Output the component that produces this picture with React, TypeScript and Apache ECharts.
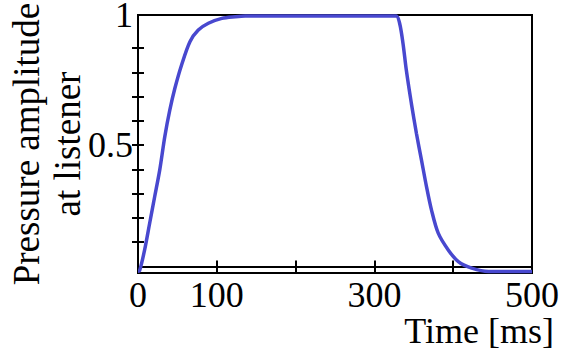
import React, { useEffect, useRef } from "react";
import * as echarts from "echarts";

const timeMs = [0, 2, 8.4, 14.8, 21.2, 27.6, 34, 40.4, 46.8, 55.3, 65.9, 76.5, 89.3, 106.4, 123.4, 136, 180, 240, 300, 327.7, 332, 336.3, 340.5, 346.9, 353.3, 359.7, 366.1, 372.4, 381, 393.7, 406.5, 423.5, 444.8, 470, 500];
const amplitude = [-0.02, -0.018, 0.068, 0.178, 0.288, 0.398, 0.535, 0.645, 0.734, 0.83, 0.926, 0.974, 1.002, 1.022, 1.029, 1.032, 1.032, 1.032, 1.032, 1.032, 1.002, 0.919, 0.809, 0.672, 0.549, 0.439, 0.329, 0.233, 0.137, 0.068, 0.02, -0.007, -0.021, -0.021, -0.021];

const xTicks = [100, 200, 300, 400];
const xLabels = [0, 100, 300, 500];
const yTicks = [0.1, 0.2, 0.3, 0.4, 0.5, 0.6, 0.7, 0.8, 0.9];
const yMin = -0.027;
const yMax = 1.036;
const yLabels = [0.5, yMax];

const FONT = "'Liberation Serif', 'Times New Roman', Times, serif";

export default function App() {
  const ref = useRef<HTMLDivElement>(null);
  useEffect(() => {
    if (!ref.current) return;
    const chart = echarts.init(ref.current, null, { renderer: "svg" });
    const data = timeMs.map((t, i) => [t, amplitude[i]]);
    chart.setOption({
      animation: false,
      backgroundColor: "#fff",
      grid: {
        left: 138,
        right: 30,
        top: 15,
        bottom: 83,
        show: true,
        borderColor: "#000",
        borderWidth: 2,
        containLabel: false,
        outerBoundsMode: "none",
      },
      xAxis: [
        {
          type: "value",
          min: 0,
          max: 500,
          splitLine: { show: false },
          axisLine: { show: true, lineStyle: { color: "#000", width: 2 } },
          axisTick: { show: true, inside: false, length: 6, customValues: xTicks, lineStyle: { color: "#000", width: 2 } },
          axisLabel: {
            customValues: xLabels,
            color: "#000",
            fontFamily: FONT,
            fontSize: 36,
            margin: 4,
          },
        },
        {
          type: "value",
          min: 0,
          max: 500,
          position: "bottom",
          splitLine: { show: false },
          axisLine: { show: false },
          axisTick: { show: true, inside: true, length: 6, customValues: xTicks, lineStyle: { color: "#000", width: 2 } },
          axisLabel: { show: false },
        },
      ],
      yAxis: [
        {
          type: "value",
          min: yMin,
          max: yMax,
          splitLine: { show: false },
          axisLine: { show: true, lineStyle: { color: "#000", width: 2 } },
          axisTick: { show: true, inside: false, length: 6, customValues: yTicks, lineStyle: { color: "#000", width: 2 } },
          axisLabel: {
            customValues: yLabels,
            formatter: (v: number) => (v > 1 ? "1" : String(v)),
            color: "#000",
            fontFamily: FONT,
            fontSize: 36,
            margin: 5,
          },
          name: "Pressure amplitude\nat listener",
          nameLocation: "middle",
          nameGap: 50,
          nameMoveOverlap: false,
          nameTextStyle: {
            color: "#000",
            fontFamily: FONT,
            fontSize: 37,
            lineHeight: 41,
          },
        },
        {
          type: "value",
          min: yMin,
          max: yMax,
          position: "left",
          splitLine: { show: false },
          axisLine: { show: false },
          axisTick: { show: true, inside: true, length: 6, customValues: yTicks, lineStyle: { color: "#000", width: 2 } },
          axisLabel: { show: false },
        },
      ],
      graphic: [
        {
          type: "text",
          right: 8,
          top: 313,
          style: {
            text: "Time [ms]",
            fill: "#000",
            fontFamily: FONT,
            fontSize: 36,
          },
        },
      ],
      series: [
        {
          type: "line",
          data,
          smooth: 0.3,
          symbol: "none",
          lineStyle: { color: "#4848cf", width: 3.5 },
          z: 3,
        },
      ],
    });
    return () => chart.dispose();
  }, []);
  return <div ref={ref} style={{ position: "absolute", left: 0, top: 0, width: 562, height: 356 }} />;
}
